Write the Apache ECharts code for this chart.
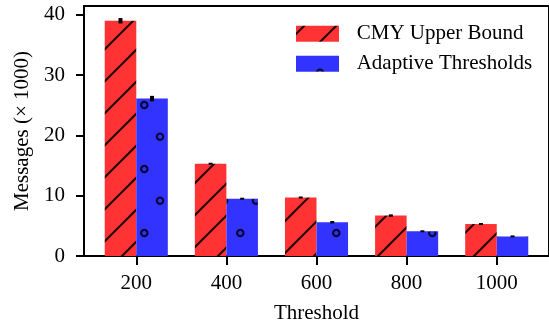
<!DOCTYPE html>
<html><head><meta charset="utf-8">
<script src="https://cdn.jsdelivr.net/npm/echarts@6/dist/echarts.min.js"></script>
<style>html,body{margin:0;padding:0;background:#fff}#c{width:549px;height:329px}</style>
</head><body><div id="c"></div>
<script>
const categories = ['200', '400', '600', '800', '1000'];
const cmyUpper = [39.0, 15.3, 9.7, 6.7, 5.3];
const cmyErr = [0.45, 0.15, 0.12, 0.2, 0.1];
const adaptive = [26.1, 9.5, 5.6, 4.1, 3.25];
const adaptiveErr = [0.45, 0.12, 0.2, 0.15, 0.05];
const yTicks = [0, 10, 20, 30, 40];
const xTicks = [0, 1, 2, 3, 4];

const FONT = 'Liberation Serif';
const RED = '#ff3333', BLUE = '#3333ff';

function lineTile() {
  const c = document.createElement('canvas'); c.width = 32; c.height = 32;
  const g = c.getContext('2d');
  g.fillStyle = RED; g.fillRect(0, 0, 32, 32);
  g.strokeStyle = '#220606'; g.lineWidth = 2;
  for (const k of [-6, 26, 58]) { g.beginPath(); g.moveTo(k + 8, -8); g.lineTo(-8, k + 8); g.stroke(); }
  return c;
}
function circleTile() {
  const c = document.createElement('canvas'); c.width = 32; c.height = 64;
  const g = c.getContext('2d');
  g.fillStyle = BLUE; g.fillRect(0, 0, 32, 64);
  g.strokeStyle = '#0a0a3a'; g.lineWidth = 2.2;
  for (const [x, y] of [[16.3, 41], [0, 8.7], [32, 8.7]]) { g.beginPath(); g.arc(x, y, 3.2, 0, Math.PI * 2); g.stroke(); }
  return c;
}
const lt = lineTile(), ct = circleTile();
const redPat = { image: lt, repeat: 'repeat' };
const bluePat = { image: ct, repeat: 'repeat' };
const redLegPat = { image: lt, repeat: 'repeat', x: -312, y: -25.7 };
const blueLegPat = { image: ct, repeat: 'repeat', x: -296, y: -55.7 };

const BW = 0.35;
function barSeries(name, values, offset, pat) {
  return {
    type: 'custom', name, coordinateSystem: 'cartesian2d',
    data: values.map((v, i) => [i, v]), encode: { x: 0, y: 1 },
    itemStyle: { color: pat },
    renderItem(params, api) {
      const i = api.value(0), v = api.value(1);
      const p0 = api.coord([i + offset, 0]);
      const p1 = api.coord([i + offset + BW, v]);
      return { type: 'rect', shape: { x: p0[0], y: p1[1], width: p1[0] - p0[0], height: p0[1] - p1[1] }, style: { fill: pat } };
    },
    z: 2
  };
}
function errSeries(values, errs, offset) {
  return {
    type: 'custom', name: 'err' + offset, coordinateSystem: 'cartesian2d',
    data: values.map((v, i) => [i, v, errs[i]]), encode: { x: 0, y: 1 },
    renderItem(params, api) {
      const i = api.value(0), v = api.value(1), e = api.value(2);
      const pt = api.coord([i + offset + BW / 2, v + e]);
      const pb = api.coord([i + offset + BW / 2, v - e]);
      let h = Math.max(pb[1] - pt[1], 2);
      const cy = (pt[1] + pb[1]) / 2;
      return { type: 'rect', shape: { x: pt[0] - 2, y: cy - h / 2, width: 4, height: h }, style: { fill: '#000' } };
    },
    z: 3, silent: true
  };
}

const chart = echarts.init(document.getElementById('c'), null, { renderer: 'canvas' });
chart.setOption({
  animation: false,
  backgroundColor: '#fff',
  grid: { left: 84, right: -5, top: 6, bottom: 71, show: true, borderColor: '#000', borderWidth: 2, backgroundColor: 'transparent' },
  legend: {
    left: 296, top: 23.2, padding: 0, orient: 'vertical', itemWidth: 43, itemHeight: 16, itemGap: 9, icon: 'rect',
    textStyle: { fontFamily: FONT, fontSize: 21, color: '#000', padding: [0, 0, 0, 12.7] },
    data: [
      { name: 'CMY Upper Bound', itemStyle: { color: redLegPat, borderWidth: 0 } },
      { name: 'Adaptive Thresholds', itemStyle: { color: blueLegPat, borderWidth: 0 } }
    ],
    selectedMode: false
  },
  xAxis: {
    type: 'value', min: -0.58, max: 4.58,
    axisLine: { show: true, onZero: false, lineStyle: { color: '#000', width: 2 } },
    axisTick: { show: true, length: 9, lineStyle: { color: '#000', width: 2 }, customValues: xTicks },
    axisLabel: { customValues: xTicks, formatter: v => categories[Math.round(v)], margin: 17, fontFamily: FONT, fontSize: 21, color: '#000' },
    splitLine: { show: false },
    name: 'Threshold', nameLocation: 'middle', nameGap: 47,
    nameTextStyle: { fontFamily: FONT, fontSize: 21, color: '#000' }
  },
  yAxis: {
    type: 'value', min: 0, max: 41.45,
    axisLine: { show: true, onZero: false, lineStyle: { color: '#000', width: 2 } },
    axisTick: { show: true, length: 8, lineStyle: { color: '#000', width: 2 }, customValues: yTicks },
    axisLabel: { customValues: yTicks, margin: 19, fontFamily: FONT, fontSize: 21, color: '#000' },
    splitLine: { show: false },
    name: 'Messages (× 1000)', nameLocation: 'middle', nameGap: 51,
    nameTextStyle: { fontFamily: FONT, fontSize: 21, color: '#000' }
  },
  series: [
    barSeries('CMY Upper Bound', cmyUpper, -BW, redPat),
    barSeries('Adaptive Thresholds', adaptive, 0, bluePat),
    errSeries(cmyUpper, cmyErr, -BW),
    errSeries(adaptive, adaptiveErr, 0)
  ]
});
</script></body></html>
